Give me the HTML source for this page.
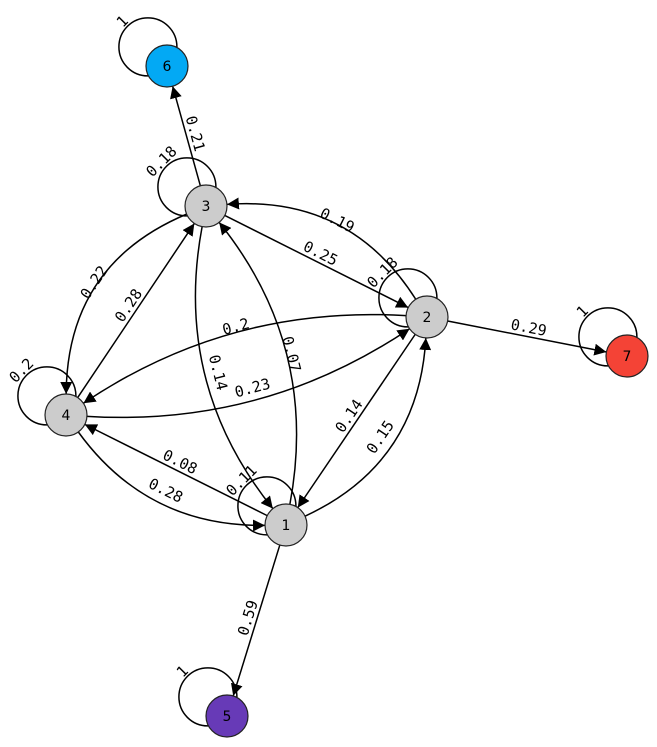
<!DOCTYPE html>
<html><head><meta charset="utf-8"><style>
html,body{margin:0;padding:0;background:#fff;width:657px;height:747px;overflow:hidden}
svg text{font-family:"DejaVu Sans Mono","Liberation Mono",monospace;font-size:15px}
</style></head><body>
<svg id="g" width="657" height="747" viewBox="0 0 657 747">
<defs><marker id="ah" viewBox="0 0 10 10" refX="10" refY="5" markerWidth="12" markerHeight="12" markerUnits="userSpaceOnUse" orient="auto"><path d="M0,0 L10,5 L0,10 z" fill="#000"/></marker></defs>
</svg>
<script>
const nodeIds=[1,2,3,4,5,6,7];
const nodeX=[286,427,206,66,227,167,627];
const nodeY=[525,317,206,415,716,66,356];
const nodeColors=['#cccccc','#cccccc','#cccccc','#cccccc','#673ab7','#03a9f4','#f44336'];
const edgeFrom=[3,3,2,3,4,2,4,3,1,2,1,1,4,2,1];
const edgeTo=[6,2,3,4,3,4,2,1,3,1,2,4,1,7,5];
const edgeWeights=['0.21','0.25','0.19','0.22','0.28','0.2','0.23','0.14','0.07','0.14','0.15','0.08','0.28','0.29','0.59'];
const edgeRad=[0,0,0.3,0.33,0,0.17,0.17,0.23,0.23,0,0.3,0,0.26,0,0];
const loopNodes=[6,3,2,7,4,1,5];
const loopWeights=['1','0.18','0.18','1','0.2','0.11','1'];
const NS='http://www.w3.org/2000/svg',svg=document.getElementById('g'),R=21;
function mk(t,a){const e=document.createElementNS(NS,t);for(const k in a)e.setAttribute(k,a[k]);svg.appendChild(e);return e;}
function pos(id){const i=nodeIds.indexOf(id);return [nodeX[i],nodeY[i]];}
function label(txt,x,y,ang,name){
  let a=ang; if(a>90)a-=180; if(a<-90)a+=180;
  const rad=a*Math.PI/180, ox=Math.sin(rad)*9, oy=-Math.cos(rad)*9;
  const t=mk('text',{x:x+ox,y:y+oy,'text-anchor':'middle','dominant-baseline':'central',transform:`rotate(${a} ${x+ox} ${y+oy})`});
  t.textContent=txt;
  
  
}
loopNodes.forEach((n,i)=>{
  const [x,y]=pos(n), a=225*Math.PI/180, d=27, r=29;
  const cx=x+Math.cos(a)*d, cy=y+Math.sin(a)*d;
  const c=mk('circle',{cx:cx,cy:cy,r:r,fill:'none',stroke:'#000','stroke-width':1.5});
  
  
  label(loopWeights[i],cx+Math.cos(a)*(r-2),cy+Math.sin(a)*(r-2),-45,'loop-label-'+n);
});
edgeFrom.forEach((f,i)=>{
  const [x1,y1]=pos(f),[x2,y2]=pos(edgeTo[i]);
  const dx=x2-x1,dy=y2-y1,rr=edgeRad[i];
  const mx=(x1+x2)/2-dy*rr, my=(y1+y2)/2+dx*rr;
  let sx=mx-x1,sy=my-y1,sl=Math.hypot(sx,sy);
  let ex=mx-x2,ey=my-y2,el=Math.hypot(ex,ey);
  const ax=x1+sx/sl*R, ay=y1+sy/sl*R, bx=x2+ex/el*R, by=y2+ey/el*R;
  const p=mk('path',{d:`M${ax},${ay} Q${mx},${my} ${bx},${by}`,fill:'none',stroke:'#000','stroke-width':1.5,'marker-end':'url(#ah)'});
  
  
  const px=0.25*x1+0.5*mx+0.25*x2, py=0.25*y1+0.5*my+0.25*y2;
  label(edgeWeights[i],px,py,Math.atan2(dy,dx)*180/Math.PI,'edge-label-'+f+'-'+edgeTo[i]);
});
nodeIds.forEach((n,i)=>{
  const c=mk('circle',{cx:nodeX[i],cy:nodeY[i],r:R,fill:nodeColors[i],stroke:'#222','stroke-width':1.2});
  
  
  const t=mk('text',{x:nodeX[i],y:nodeY[i]+1,'text-anchor':'middle','dominant-baseline':'central',style:'font-family:"DejaVu Sans","Liberation Sans",sans-serif;font-size:14px'});
  t.textContent=n;
  
  
});
</script>
</body></html>
